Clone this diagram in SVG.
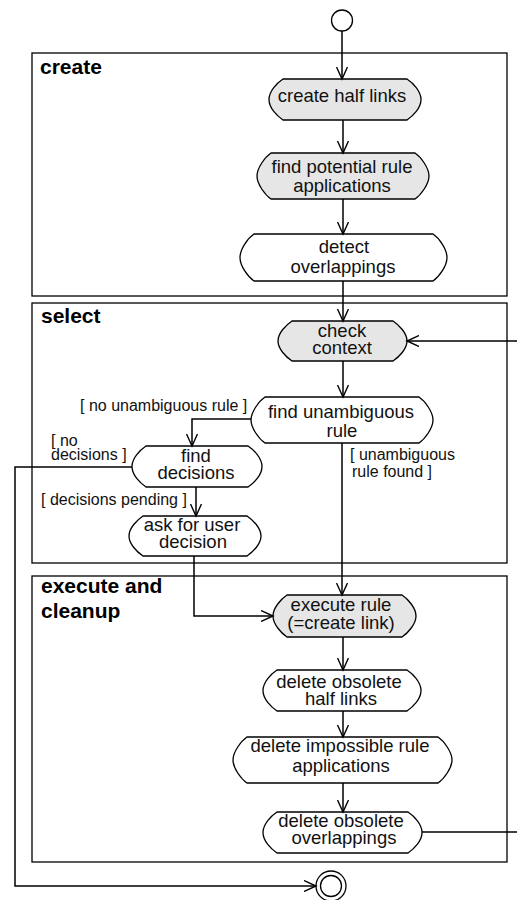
<svg xmlns="http://www.w3.org/2000/svg" width="517" height="900" viewBox="0 0 517 900">
<defs>
<marker id="arr" markerUnits="userSpaceOnUse" markerWidth="14" markerHeight="12" refX="12" refY="6" orient="auto">
<path d="M0,0.5 L12,6 L0,11.5" fill="none" stroke="#000" stroke-width="1.4"/>
</marker>
</defs>
<style>
.frame{fill:none;stroke:#000;stroke-width:1.3}
.hdr{font-family:"Liberation Sans",Arial,sans-serif;font-weight:bold;font-size:21px;fill:#000}
.node{stroke:#000;stroke-width:1.3}
.g{fill:#e6e6e6}
.w{fill:#fff}
.t{font-family:"Liberation Sans",Arial,sans-serif;font-size:18.5px;fill:#111;text-anchor:middle}
.lbl{font-family:"Liberation Sans",Arial,sans-serif;font-size:16px;fill:#111}
.c{fill:none;stroke:#000;stroke-width:1.5}
</style>
<rect width="517" height="900" fill="#fff"/>
<g id="frames">
<rect class="frame" x="32" y="53" width="475" height="243"/>
<text class="hdr" x="40" y="74">create</text>
<rect class="frame" x="32" y="303" width="475" height="260"/>
<text class="hdr" x="41" y="323">select</text>
<rect class="frame" x="32" y="576" width="475" height="286"/>
<text class="hdr" x="41" y="593">execute and</text>
<text class="hdr" x="41" y="618">cleanup</text>
</g>
<g id="initial"><circle cx="342" cy="20.5" r="10.5" fill="#fff" stroke="#000" stroke-width="1.3"/></g>
<g id="final"><circle cx="331" cy="886" r="15" fill="#fff" stroke="#000" stroke-width="1.3"/><circle cx="331" cy="886" r="10.5" fill="#fff" stroke="#000" stroke-width="1.3"/></g>
<g id="n1"><path class="node g" d="M283,79 H407 C413,83 421,91 421,99.5 C421,108 413,116 407,120 H283 C277,116 269,108 269,99.5 C269,91 277,83 283,79 Z"/>
<text class="t" x="342" y="102">create half links</text></g>
<g id="n2"><path class="node g" d="M271,153 H415 C421,157 429,168 429,176 C429,184 421,195 415,199 H271 C265,195 257,184 257,176 C257,168 265,157 271,153 Z"/>
<text class="t" x="342" y="173">find potential rule</text><text class="t" x="342" y="192">applications</text></g>
<g id="n3"><path class="node w" d="M254,234 H433 C439,238 447,249 447,257.5 C447,266 439,277 433,281 H254 C248,277 240,266 240,257.5 C240,249 248,238 254,234 Z"/>
<text class="t" x="344" y="253">detect</text><text class="t" x="343" y="273">overlappings</text></g>
<g id="n4"><path class="node g" d="M292,321 H393 C399,325 407,333 407,341 C407,349 399,357 393,361 H292 C286,357 278,349 278,341 C278,333 286,325 292,321 Z"/>
<text class="t" x="342" y="337">check</text><text class="t" x="342" y="354">context</text></g>
<g id="n5"><path class="node w" d="M265,397 H419 C425,401 433,412 433,420 C433,428 425,439 419,443 H265 C259,439 251,428 251,420 C251,412 259,401 265,397 Z"/>
<text class="t" x="341" y="418">find unambiguous</text><text class="t" x="342" y="437">rule</text></g>
<g id="n6"><path class="node w" d="M146,446 H248 C254,450 262,458 262,466.5 C262,475 254,483 248,487 H146 C140,483 132,475 132,466.5 C132,458 140,450 146,446 Z"/>
<text class="t" x="196" y="462">find</text><text class="t" x="196" y="479">decisions</text></g>
<g id="n7"><path class="node w" d="M143,516 H247 C253,520 261,528 261,536 C261,544 253,552 247,556 H143 C137,552 129,544 129,536 C129,528 137,520 143,516 Z"/>
<text class="t" x="192" y="531">ask for user</text><text class="t" x="193" y="548">decision</text></g>
<g id="n8"><path class="node g" d="M287,595 H402 C408,599 416,608 416,616 C416,624 408,633 402,637 H287 C281,633 273,624 273,616 C273,608 281,599 287,595 Z"/>
<text class="t" x="341" y="611">execute rule</text><text class="t" x="341" y="629">(=create link)</text></g>
<g id="n9"><path class="node w" d="M277,670 H407 C413,674 421,682 421,690.5 C421,699 413,707 407,711 H277 C271,707 263,699 263,690.5 C263,682 271,674 277,670 Z"/>
<text class="t" x="339" y="688">delete obsolete</text><text class="t" x="341" y="705">half links</text></g>
<g id="n10"><path class="node w" d="M247,737 H438 C444,741 452,752 452,760 C452,768 444,779 438,783 H247 C241,779 233,768 233,760 C233,752 241,741 247,737 Z"/>
<text class="t" x="340" y="752">delete impossible rule</text><text class="t" x="341" y="772">applications</text></g>
<g id="n11"><path class="node w" d="M277,812 H408 C414,816 422,824 422,832.5 C422,841 414,849 408,853 H277 C271,849 263,841 263,832.5 C263,824 271,816 277,812 Z"/>
<text class="t" x="341" y="827">delete obsolete</text><text class="t" x="344" y="844">overlappings</text></g>
<g id="connectors">
<path class="c" d="M342,31 V79" marker-end="url(#arr)"/>
<path class="c" d="M343,120 V153" marker-end="url(#arr)"/>
<path class="c" d="M343,199 V234" marker-end="url(#arr)"/>
<path class="c" d="M343,281 V321" marker-end="url(#arr)"/>
<path class="c" d="M343,361 V397" marker-end="url(#arr)"/>
<path class="c" d="M251,419 H192 V446" marker-end="url(#arr)"/>
<path class="c" d="M132,467 H15 V886 H316" marker-end="url(#arr)"/>
<path class="c" d="M196,487 V516" marker-end="url(#arr)"/>
<path class="c" d="M194,556 V616 H273" marker-end="url(#arr)"/>
<path class="c" d="M342,443 V595" marker-end="url(#arr)"/>
<path class="c" d="M343,637 V670" marker-end="url(#arr)"/>
<path class="c" d="M343,711 V737" marker-end="url(#arr)"/>
<path class="c" d="M343,783 V812" marker-end="url(#arr)"/>
<path class="c" d="M422,832 H530 V341 H407" marker-end="url(#arr)"/>
</g>
<g id="labels">
<text class="lbl" x="80" y="411">[ no unambiguous rule ]</text>
<text class="lbl" x="51" y="446">[ no</text>
<text class="lbl" x="51" y="459.5">decisions ]</text>
<text class="lbl" x="41" y="505">[ decisions pending ]</text>
<text class="lbl" x="350" y="459.5">[ unambiguous</text>
<text class="lbl" x="352" y="477">rule found ]</text>
</g>
</svg>
